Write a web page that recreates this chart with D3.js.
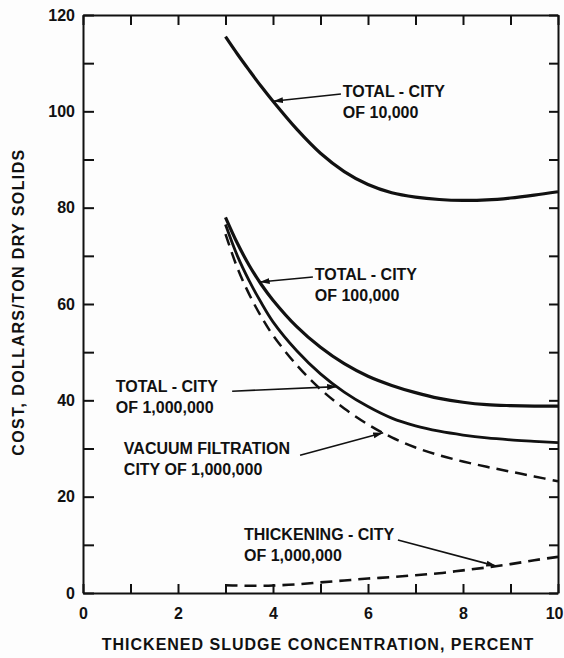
<!DOCTYPE html>
<html>
<head>
<meta charset="utf-8">
<script src="https://cdn.jsdelivr.net/npm/d3@7"></script>
<style>
  body { margin: 0; background: #fdfdfd; }
  svg { display: block; font-family: "Liberation Sans", Arial, sans-serif; font-weight: bold; }
  .axis path, .axis line { stroke: #111; stroke-width: 2; }
  .axis text { font-size: 16px; fill: #111; font-family: "Liberation Sans", Arial, sans-serif; font-weight: bold; }
</style>
</head>
<body>
<div id="chart"></div>
<script>
// thickened sludge concentration, percent
let concentration = [3, 3.25, 3.5, 3.75, 4, 4.5, 5, 5.5, 6, 6.5, 7, 7.5, 8, 8.5, 9, 9.5, 10];

// cost, dollars / ton dry solids
let totalCity10k = [115.5, 111.9, 108.5, 105.2, 102.1, 96.3, 91.3, 87.5, 84.8, 83.1, 82.2, 81.7, 81.5, 81.6, 82, 82.6, 83.3];
let totalCity100k = [78, 72.6, 68, 64.1, 60.8, 55.3, 51, 47.6, 45, 43.1, 41.6, 40.4, 39.6, 39.1, 38.9, 38.8, 38.8];
let totalCity1m = [76.5, 70, 64.8, 60.3, 56.3, 50.3, 45.5, 41.7, 38.7, 36.3, 34.7, 33.6, 32.8, 32.2, 31.8, 31.5, 31.2];
let vacuumCity1m = [74.5, 67.5, 62, 57.4, 53.5, 47.3, 42.3, 38.3, 35, 32.3, 30.2, 28.6, 27.3, 26.2, 25.2, 24.2, 23.2];
let thickeningCity1m = [1.6, 1.55, 1.5, 1.5, 1.55, 1.8, 2.2, 2.6, 3.0, 3.3, 3.7, 4.1, 4.7, 5.3, 6.0, 6.8, 7.5];

let xTicks = d3.range(0, 11);
let yTicks = d3.range(0, 121, 10);

let series = [
  { name: "total 10,000", values: totalCity10k, dashed: false, w: 3.2 },
  { name: "total 100,000", values: totalCity100k, dashed: false, w: 3.2 },
  { name: "total 1,000,000", values: totalCity1m, dashed: false, w: 2.8 },
  { name: "vacuum 1,000,000", values: vacuumCity1m, dashed: true, w: 2.5 },
  { name: "thickening 1,000,000", values: thickeningCity1m, dashed: true, w: 2.6 }
];

// label text, where it sits (data units) and where its arrow starts / points (x on the curve)
let notes = [
  { lines: ["TOTAL - CITY", "OF 10,000"], at: [5.47, 103], from: [5.43, 103.6], to: 4.0, s: 0 },
  { lines: ["TOTAL - CITY", "OF 100,000"], at: [4.88, 65.0], from: [4.84, 65.6], to: 3.72, s: 1 },
  { lines: ["TOTAL - CITY", "OF 1,000,000"], at: [0.69, 41.7], from: [3.14, 41.9], to: 5.35, s: 2 },
  { lines: ["VACUUM FILTRATION", "CITY OF 1,000,000"], at: [0.86, 28.9], from: [4.57, 28.6], to: 6.32, s: 3 },
  { lines: ["THICKENING - CITY", "OF 1,000,000"], at: [3.39, 11.0], from: [6.63, 11.0], to: 8.7, s: 4 }
];

let width = 564, height = 658;

let x = d3.scaleLinear().domain([0, 10]).range([83, 558]);
let y = d3.scaleLinear().domain([0, 120]).range([593, 15]);

let svg = d3.select("#chart").append("svg")
  .attr("width", width)
  .attr("height", height);

svg.append("defs").append("marker")
  .attr("id", "head")
  .attr("markerUnits", "userSpaceOnUse")
  .attr("viewBox", "0 -4 10 8")
  .attr("refX", 10).attr("refY", 0)
  .attr("markerWidth", 10).attr("markerHeight", 8)
  .attr("orient", "auto")
  .append("path").attr("d", "M0,-3L10,0L0,3Z").attr("fill", "#111");

// axes: ticks point into the plot
let bottom = svg.append("g").attr("class", "axis")
  .attr("transform", `translate(0,${y(0)})`)
  .call(d3.axisBottom(x).tickValues(xTicks).tickSizeInner(-9).tickSizeOuter(0).tickPadding(15)
    .tickFormat(d => d % 2 ? "" : d));
// last label sits on the page edge, keep it inside
bottom.selectAll(".tick text").filter(d => d === 10)
  .attr("text-anchor", "end").attr("dx", "5px");

svg.append("g").attr("class", "axis")
  .attr("transform", `translate(${x(0)},0)`)
  .call(d3.axisLeft(y).tickValues(yTicks).tickSizeInner(-11).tickSizeOuter(0).tickPadding(8)
    .tickFormat(d => d % 20 ? "" : d));

svg.append("g").attr("class", "axis")
  .attr("transform", `translate(0,${y(120)})`)
  .call(d3.axisTop(x).tickValues(xTicks).tickSizeInner(-10).tickSizeOuter(0).tickFormat(""));

svg.append("g").attr("class", "axis")
  .attr("transform", `translate(${x(10)},0)`)
  .call(d3.axisRight(y).tickValues(yTicks).tickSizeInner(-9).tickSizeOuter(0).tickFormat(""));

// curves
let line = d3.line()
  .x((d, i) => x(concentration[i]))
  .y(d => y(d))
  .curve(d3.curveCatmullRom.alpha(0.5));

svg.selectAll(".curve")
  .data(series)
  .join("path")
  .attr("class", "curve")
  .attr("d", d => line(d.values))
  .attr("fill", "none")
  .attr("stroke", "#111")
  .attr("stroke-width", d => d.w)
  .attr("stroke-dasharray", d => d.dashed ? "12,7" : null)
  .attr("stroke-linecap", "butt");

// annotations
let valueAt = (values, cx) => {
  let i = d3.bisectRight(concentration, cx) - 1;
  i = Math.max(0, Math.min(i, concentration.length - 2));
  let t = (cx - concentration[i]) / (concentration[i + 1] - concentration[i]);
  return values[i] + t * (values[i + 1] - values[i]);
};

let note = svg.selectAll(".note")
  .data(notes)
  .join("g")
  .attr("class", "note");

note.append("line")
  .attr("x1", d => x(d.from[0]))
  .attr("y1", d => y(d.from[1]))
  .attr("x2", d => x(d.to))
  .attr("y2", d => y(valueAt(series[d.s].values, d.to)))
  .attr("stroke", "#111")
  .attr("stroke-width", 1.6)
  .attr("marker-end", "url(#head)");

note.append("text")
  .attr("x", d => x(d.at[0]))
  .attr("y", d => y(d.at[1]))
  .attr("font-size", "16px")
  .attr("fill", "#111")
  .selectAll("tspan")
  .data(d => d.lines.map(t => ({ t, x: x(d.at[0]) })))
  .join("tspan")
  .attr("x", d => d.x)
  .attr("dy", (d, i) => i ? 21 : 0)
  .text(d => d.t);

// axis titles
svg.append("text")
  .attr("x", 318).attr("y", 650)
  .attr("text-anchor", "middle")
  .attr("font-size", "16px")
  .attr("letter-spacing", "1px")
  .attr("fill", "#111")
  .text("THICKENED SLUDGE CONCENTRATION, PERCENT");

svg.append("text")
  .attr("transform", "translate(24,302) rotate(-90)")
  .attr("text-anchor", "middle")
  .attr("font-size", "16px")
  .attr("letter-spacing", "1.4px")
  .attr("fill", "#111")
  .text("COST, DOLLARS/TON DRY SOLIDS");
</script>
</body>
</html>
